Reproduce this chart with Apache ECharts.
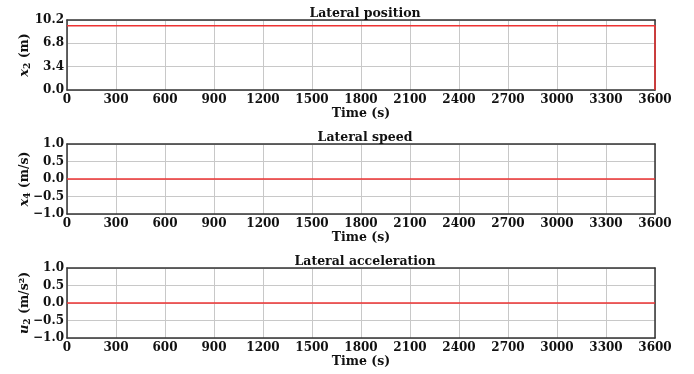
<!DOCTYPE html>
<html><head><meta charset="utf-8">
<script src="https://cdn.jsdelivr.net/npm/echarts@6/dist/echarts.min.js"></script>
<style>html,body{margin:0;padding:0;background:#fff}#c{width:694px;height:374px}</style>
</head><body><div id="c"></div>
<script>
// Data
const posTime = [0, 3600, 3600];
const lateralPosition = [9.35, 9.35, 0];
const speedTime = [0, 3600];
const lateralSpeed = [0, 0];
const accelTime = [0, 3600];
const lateralAccel = [0, 0];
const xTicks = [0,300,600,900,1200,1500,1800,2100,2400,2700,3000,3300,3600];
const titles = ['Lateral position', 'Lateral speed', 'Lateral acceleration'];

const FONT = 'DejaVu Serif';
const chart = echarts.init(document.getElementById('c'), null, {renderer: 'canvas'});
const tops = [20, 144, 268];
const H = 70;
const grids = tops.map(t => ({left: 67, right: 39, top: t, height: H}));
const split = {show: true, lineStyle: {color: '#c8c8c8', width: 1}};
const lbl = {fontFamily: FONT, fontWeight: 'bold', fontSize: 12, color: '#111'};
const xAxes = tops.map((t, i) => ({
  type: 'value', gridIndex: i, min: 0, max: 3600, interval: 300,
  axisLine: {show: true, onZero: false, lineStyle: {color: '#333', width: 1.5}},
  axisTick: {show: false}, splitLine: split,
  axisLabel: Object.assign({margin: 4, formatter: v => xTicks.includes(v) ? String(v) : ''}, lbl),
  name: 'Time (s)', nameLocation: 'middle', nameGap: 17, nameMoveOverlap: false,
  nameTextStyle: Object.assign({}, lbl, {fontSize: 12.5, verticalAlign: 'top'})
}));
const xTop = tops.map((t, i) => ({
  type: 'value', gridIndex: i, min: 0, max: 3600, position: 'top',
  axisLine: {show: true, onZero: false, lineStyle: {color: '#333', width: 1.5}},
  axisTick: {show: false}, axisLabel: {show: false}, splitLine: {show: false}
}));
const rich = {
  i: {fontFamily: FONT, fontStyle: 'italic', fontWeight: 'bold', fontSize: 13, color: '#111'},
  n: {fontFamily: FONT, fontWeight: 'bold', fontSize: 12.5, color: '#111'},
  s: {fontFamily: FONT, fontWeight: 'bold', fontSize: 9, color: '#111', padding: [6, 0, 0, 0]}
};
const yNames = ['{i|x}{s|2}{n| (m)}', '{i|x}{s|4}{n| (m/s)}', '{i|u}{s|2}{n| (m/s²)}'];
const yAxes = [
  {min: 0, max: 10.2, interval: 3.4, fmt: v => v.toFixed(1)},
  {min: -1, max: 1, interval: 0.5, fmt: v => v < 0 ? '−' + Math.abs(v).toFixed(1) : v.toFixed(1)},
  {min: -1, max: 1, interval: 0.5, fmt: v => v < 0 ? '−' + Math.abs(v).toFixed(1) : v.toFixed(1)}
].map((a, i) => ({
  type: 'value', gridIndex: i, min: a.min, max: a.max, interval: a.interval,
  axisLine: {show: true, onZero: false, lineStyle: {color: '#333', width: 1.5}},
  axisTick: {show: false}, splitLine: split,
  axisLabel: Object.assign({margin: 3, formatter: a.fmt}, lbl, {fontSize: 12}),
  name: yNames[i], nameLocation: 'middle', nameGap: 35, nameRotate: 90, nameMoveOverlap: false,
  nameTextStyle: {rich: rich}
}));
const yRight = [0,1,2].map(i => ({
  type: 'value', gridIndex: i, min: yAxes[i].min, max: yAxes[i].max, position: 'right',
  axisLine: {show: true, onZero: false, lineStyle: {color: '#333', width: 1.5}},
  axisTick: {show: false}, axisLabel: {show: false}, splitLine: {show: false}
}));
const zip = (a, b) => a.map((v, k) => [v, b[k]]);
const lineStyle = {color: '#ee3333', width: 1.5};
chart.setOption({
  animation: false,
  title: titles.map((t, i) => ({
    text: t, left: 360, top: tops[i] - 18, textAlign: 'center',
    textStyle: {fontFamily: FONT, fontWeight: 'bold', fontSize: 12.5, color: '#111'}
  })),
  grid: grids,
  xAxis: xAxes.concat(xTop),
  yAxis: yAxes.concat(yRight),
  series: [
    {type: 'line', xAxisIndex: 0, yAxisIndex: 0, data: zip(posTime, lateralPosition), showSymbol: false, lineStyle: lineStyle, z: 1},
    {type: 'line', xAxisIndex: 1, yAxisIndex: 1, data: zip(speedTime, lateralSpeed), showSymbol: false, lineStyle: lineStyle, z: 1},
    {type: 'line', xAxisIndex: 2, yAxisIndex: 2, data: zip(accelTime, lateralAccel), showSymbol: false, lineStyle: lineStyle, z: 1}
  ]
});
</script></body></html>
